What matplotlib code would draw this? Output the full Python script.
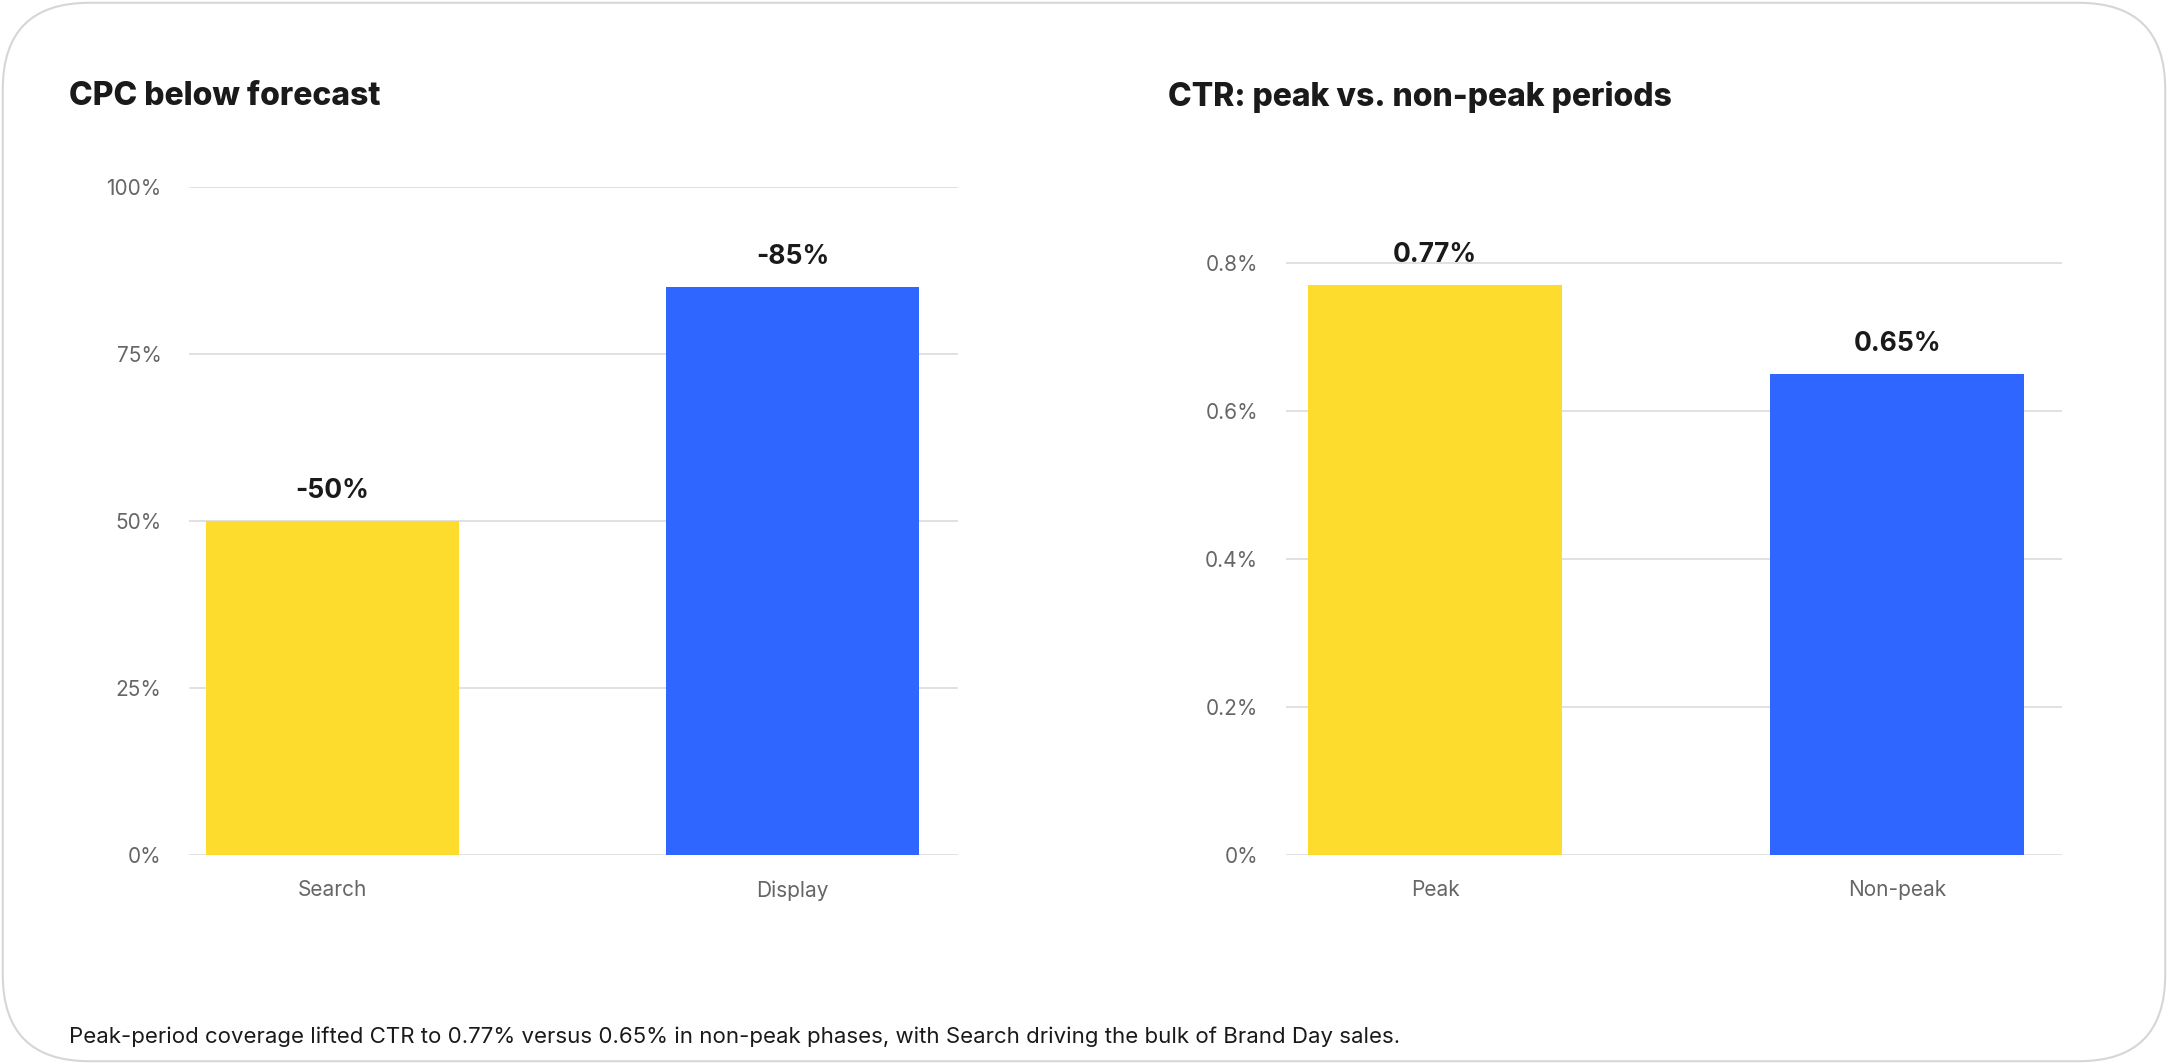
import matplotlib
matplotlib.use("Agg", force=True)
import matplotlib.pyplot as plt
from matplotlib.patches import FancyBboxPatch

cpc_categories = ["Search", "Display"]
cpc_values = [50, 85]
cpc_labels = ["-50%", "-85%"]
cpc_ticks = [0, 25, 50, 75, 100]

ctr_categories = ["Peak", "Non-peak"]
ctr_values = [0.77, 0.65]
ctr_labels = ["0.77%", "0.65%"]
ctr_ticks = [0.0, 0.2, 0.4, 0.6, 0.8]

colors = ["#FDDC2E", "#2F66FF"]
plt.rcParams["font.family"] = ["Inter", "DejaVu Sans"]

W, H = 1568, 770
fig = plt.figure(figsize=(21.68, 10.64), dpi=100)
fig.patches.append(FancyBboxPatch((2 / W, 2 / H), 1 - 4 / W, 1 - 4 / H,
                                  boxstyle="round,pad=0,rounding_size=0.04",
                                  transform=fig.transFigure, facecolor="white",
                                  edgecolor="#d6d6d6", linewidth=1.5,
                                  mutation_aspect=W / H, zorder=-10))


def panel(rect, cats, vals, labels, ticks, ylim, xlim, fmt, title, tx):
    ax = fig.add_axes(rect)
    ax.set_facecolor("none")
    x = range(len(cats))
    ax.bar(x, vals, width=0.55, color=colors, zorder=2)
    for xi, v, lab in zip(x, vals, labels):
        ax.text(xi, v + ylim * 0.025, lab, ha="center", va="bottom",
                fontsize=19, fontweight="bold", color="#1a1a1a")
    ax.set_ylim(0, ylim)
    ax.set_xlim(*xlim)
    ax.set_yticks(ticks)
    ax.set_yticklabels([fmt(t) for t in ticks])
    ax.set_xticks(list(x))
    ax.set_xticklabels(cats)
    ax.grid(True, axis="y", color="#dcdcdc", linewidth=1.2, zorder=0)
    for s in ax.spines.values():
        s.set_visible(False)
    ax.tick_params(length=0, labelsize=15, labelcolor="#666666")
    ax.tick_params(axis="x", pad=18)
    ax.tick_params(axis="y", pad=20)
    fig.text(tx, 1 - 70 / H, title, fontsize=23, fontweight="heavy", color="#1a1a1a", va="center")
    return ax


bottom = 1 - 619 / H
height = (619 - 135) / H
panel([137 / W, bottom, (693 - 137) / W, height], cpc_categories, cpc_values, cpc_labels,
      cpc_ticks, 100, (-0.31, 1.36), lambda t: f"{t:.0f}%", "CPC below forecast", 50 / W)
panel([930 / W, bottom, (1491 - 930) / W, height], ctr_categories, ctr_values, ctr_labels,
      ctr_ticks, 0.9026, (-0.323, 1.356), lambda t: f"{t:.1f}%" if t else "0%",
      "CTR: peak vs. non-peak periods", 845 / W)

fig.text(50 / W, 1 - 750 / H,
         "Peak-period coverage lifted CTR to 0.77% versus 0.65% in non-peak phases, "
         "with Search driving the bulk of Brand Day sales.",
         fontsize=16, color="#1a1a1a", va="center")

fig.savefig("out.png", dpi=100)
